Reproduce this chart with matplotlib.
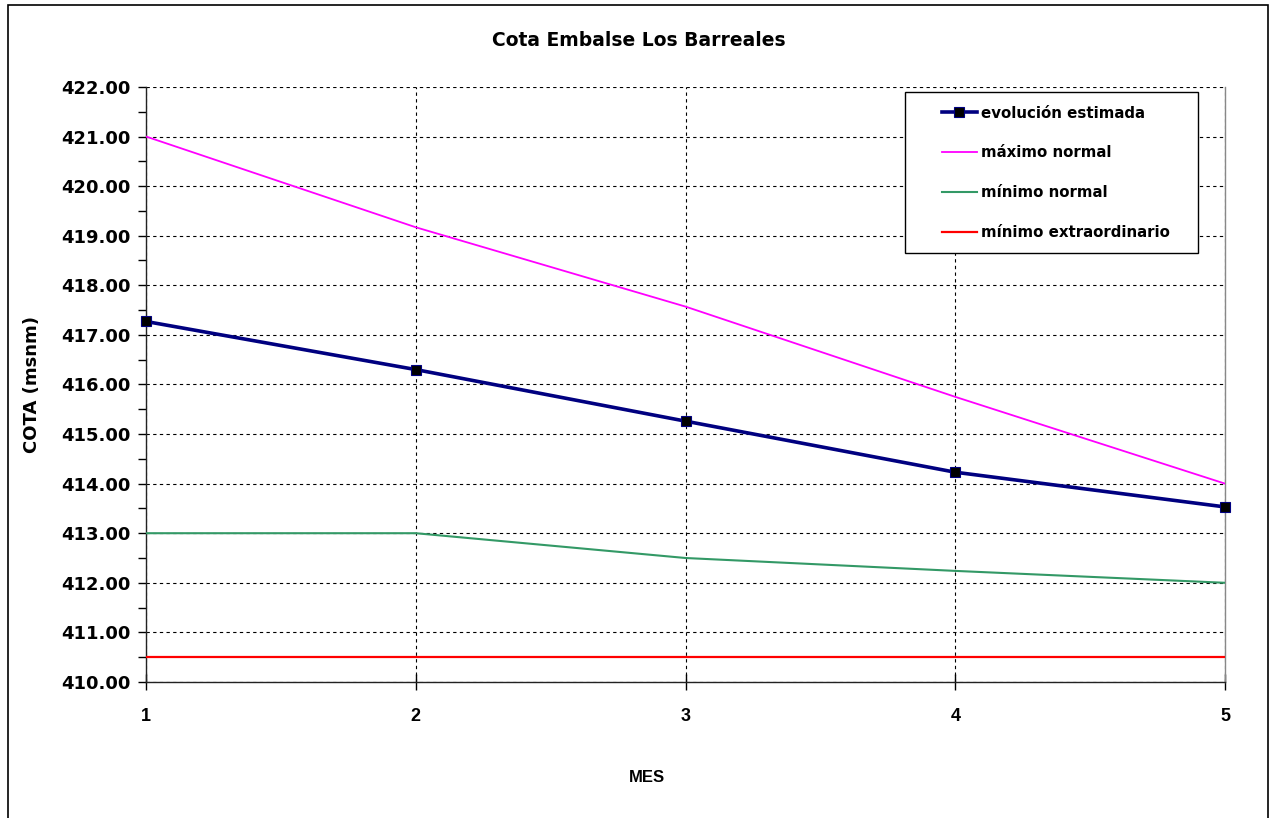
import matplotlib.pyplot as plt
from matplotlib.patches import Rectangle
from matplotlib.ticker import MultipleLocator, FormatStrFormatter

plt.rcParams['font.family'] = ['DejaVu Sans']
plt.rcParams['font.weight'] = 'bold'

# Monthly reservoir levels (msnm)
meses = [1, 2, 3, 4, 5]
evolucion_estimada = [417.27, 416.30, 415.26, 414.23, 413.53]
maximo_normal = [421.00, 419.17, 417.57, 415.75, 414.00]
minimo_normal = [413.00, 413.00, 412.50, 412.24, 412.00]
minimo_extraordinario = [410.50, 410.50, 410.50, 410.50, 410.50]

fig = plt.figure(figsize=(12.7, 8.18), dpi=100)
ax = fig.add_axes([0.115, 0.1663, 0.8496, 0.7274])

# outer chart border
fig.patches.append(Rectangle((8 / 1270, -0.01), 1260 / 1270, 1 - 5 / 818 + 0.01,
                             transform=fig.transFigure, fill=False,
                             edgecolor='black', linewidth=1.2))

ax.plot(meses, evolucion_estimada, color='#000080', linewidth=2.6, marker='s',
        markersize=7, markerfacecolor='black', markeredgecolor='#000080',
        markeredgewidth=0.8, label='evolución estimada', zorder=5, clip_on=False)
ax.plot(meses, maximo_normal, color='#FF00FF', linewidth=1.3, label='máximo normal', zorder=4)
ax.plot(meses, minimo_normal, color='#339966', linewidth=1.5, label='mínimo normal', zorder=4)
ax.plot(meses, minimo_extraordinario, color='#FF0000', linewidth=1.6,
        label='mínimo extraordinario', zorder=4)

ax.set_xlim(1, 5)
ax.set_ylim(410, 422)
ax.xaxis.set_major_locator(MultipleLocator(1))
ax.yaxis.set_major_locator(MultipleLocator(1))
ax.yaxis.set_minor_locator(MultipleLocator(0.5))
ax.yaxis.set_major_formatter(FormatStrFormatter('%.2f'))

ax.grid(True, which='major', color='black', linestyle=(0, (3, 3)), linewidth=0.8)
ax.set_axisbelow(True)

for s in ['left', 'bottom']:
    ax.spines[s].set_color('#222222')
    ax.spines[s].set_linewidth(1.0)
ax.spines['top'].set_visible(False)
ax.spines['right'].set_color('#888888')
ax.spines['right'].set_linewidth(1.0)

ax.tick_params(axis='y', which='major', direction='out', length=6, width=1,
               labelsize=13, pad=5)
ax.tick_params(axis='y', which='minor', direction='out', length=6, width=1)
ax.tick_params(axis='x', which='major', direction='inout', length=12, width=1,
               labelsize=13, pad=13)
for lbl in ax.get_xticklabels():
    lbl.set_family(['Liberation Sans', 'DejaVu Sans'])
    lbl.set_fontweight('bold')

fig.text(0.503, 1 - 40 / 818, 'Cota Embalse Los Barreales', fontsize=13.5,
         fontweight='bold', ha='center', va='center')
ax.set_ylabel('COTA (msnm)', fontsize=13, fontweight='bold')
ax.yaxis.set_label_coords(-0.1057, 0.5)
ax.yaxis.label.set_va('center')
ax.set_xlabel('MES', fontsize=12, fontweight='bold',
              family=['Liberation Sans Narrow', 'Liberation Sans', 'DejaVu Sans'])
ax.xaxis.set_label_coords(0.4643, -0.161)
ax.xaxis.label.set_va('center')

# legend box
ax.add_patch(Rectangle((0.7034, 0.721), 0.2716, 0.2706, transform=ax.transAxes,
                       facecolor='white', edgecolor='black', linewidth=1.0,
                       zorder=6, clip_on=False))
leg = ax.legend(loc='upper left', bbox_to_anchor=(0.7377, 0.9685), frameon=False,
                prop={'weight': 'bold', 'size': 10.8}, handlelength=2.3,
                handletextpad=0.3, labelspacing=1.65, borderpad=0,
                borderaxespad=0)
leg.set_zorder(7)

fig.savefig('out.png', dpi=100)
